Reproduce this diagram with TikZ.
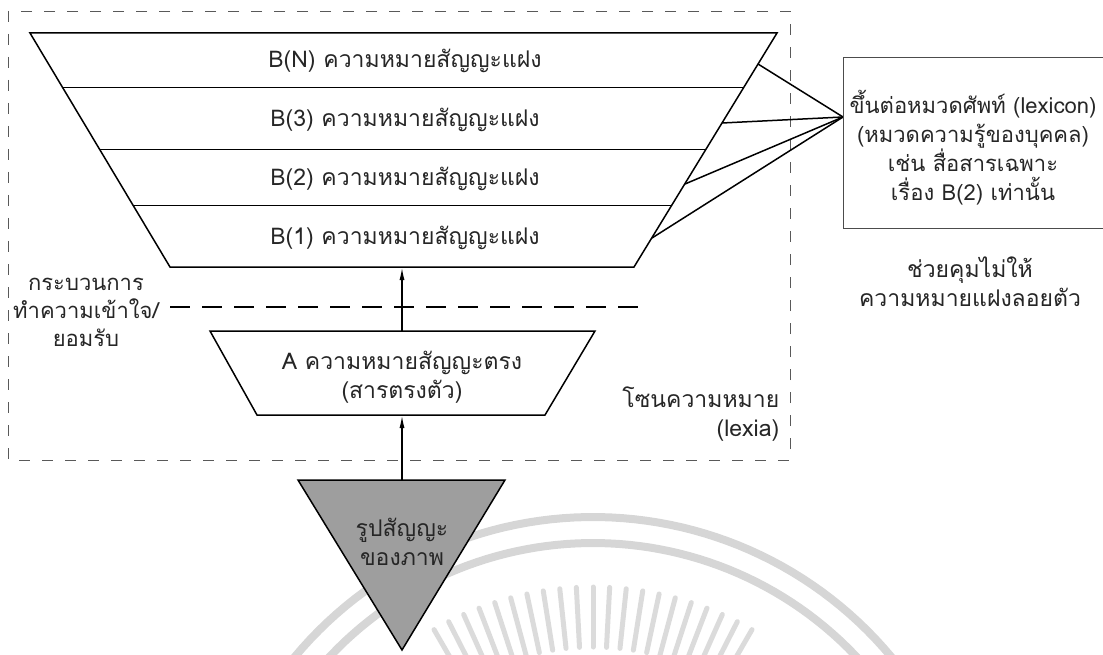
\documentclass[tikz,border=0pt]{standalone}
\usepackage{fontspec}
\setmainfont[Script=Thai]{Loma}
\usetikzlibrary{arrows.meta}

\begin{document}
\begin{tikzpicture}
[x=1pt,y=-1pt,>={Latex[length=13pt,width=5pt]},line width=1.5pt,font=\fontsize{23}{29}\selectfont]
\tikzstyle{txt}=[align=center,inner sep=0pt,text=black!85]
\tikzstyle{zone}=[black!65,line width=0.9pt,dash pattern=on 11pt off 12pt]
\tikzstyle{midline}=[line width=2pt,dash pattern=on 20pt off 12pt]
\tikzstyle{wmark}=[black!16,line width=8pt]
\tikzstyle{wray}=[black!14,line width=5pt,line cap=round]
\useasboundingbox (0,0) rectangle (1103,655);

% watermark
\draw[wmark] plot[domain=218:322,samples=60] ({593+388*cos(\x)},{905+388*sin(\x)});
\draw[wmark] plot[domain=222:318,samples=60] ({593+362*cos(\x)},{905+362*sin(\x)});
\foreach \a in {240,243,...,300}
  \draw[wray] ({593+258*cos(\a)},{905+258*sin(\a)}) -- ({593+318*cos(\a)},{905+318*sin(\a)});

% lexia zone
\draw[zone] (8,11) rectangle (790,460);

% B layers
\draw (30,33) -- (777,33) -- (634,267) -- (170,267) -- cycle;
\foreach \y in {87,149,205}
  \draw[line width=0.9pt] ({30+0.598*(\y-33)},\y) -- ({777-0.611*(\y-33)},\y);
\node[txt] (bn) at (405,61) {B(N) ความหมายสัญญะแฝง};
\node[txt] (b3) at (405,120) {B(3) ความหมายสัญญะแฝง};
\node[txt] (b2) at (405,179) {B(2) ความหมายสัญญะแฝง};
\node[txt] (b1) at (405,238) {B(1) ความหมายสัญญะแฝง};

% lexicon box
\coordinate (en) at (758,64);
\coordinate (e3) at (722,123);
\coordinate (e2) at (685,184);
\coordinate (e1) at (652,238);
\coordinate (hub) at (843,117);
\foreach \p in {en,e3,e2,e1}
  \draw (\p) -- (hub);
\draw[black!70,line width=1pt] (1110,58) -- (843,58) -- (843,229) -- (1110,229);
\node[txt,font=\fontsize{22}{29}\selectfont] (lexbox) at (973,148) {ขึ้นต่อหมวดศัพท์ (lexicon)\\(หมวดความรู้ของบุคคล)\\เช่น สื่อสารเฉพาะ\\เรื่อง B(2) เท่านั้น};
\node[txt] (guard) at (970,282) {ช่วยคุมไม่ให้\\ความหมายแฝงลอยตัว};

% process
\node[txt,font=\fontsize{22}{28}\selectfont] (proc) at (86,312) {กระบวนการ\\ทำความเข้าใจ/\\ยอมรับ};
\draw[midline] (170,307) -- (640,307);

% A layer
\draw (210,331) -- (595,331) -- (545,415) -- (257,415) -- cycle;
\node[txt] (amean) at (402,377) {A ความหมายสัญญะตรง\\(สารตรงตัว)};
\node[txt,anchor=east,align=right] (zonelbl) at (780,414) {โซนความหมาย\\(lexia)};

% sign
\draw[fill=black!38] (298,480) -- (505,480) -- (402,650) -- cycle;
\node[txt] (sign) at (402,542) {รูปสัญญะ\\ของภาพ};

\coordinate (tritop) at (402,480);
\coordinate (abot) at (402,415);
\coordinate (atop) at (402,331);
\coordinate (bbot) at (402,267);
\draw[->] (tritop) -- (abot);
\draw[->] (atop) -- (bbot);
\end{tikzpicture}
\end{document}
